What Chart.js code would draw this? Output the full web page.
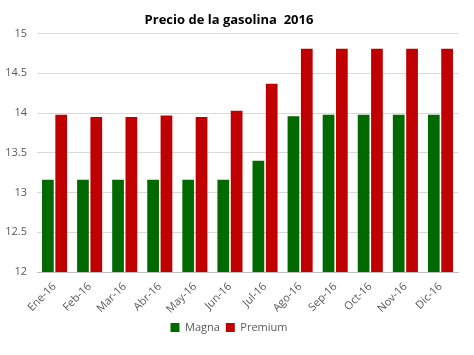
<!DOCTYPE html>
<html>
<head>
<meta charset="utf-8">
<script src="https://cdn.jsdelivr.net/npm/chart.js@4"></script>
<style>
  html, body { margin: 0; padding: 0; background: #fff; }
  #wrap { width: 474px; height: 355px; }
</style>
</head>
<body>
<div id="wrap"><canvas id="gasChart" width="474" height="355"></canvas></div>
<script>
const months = ['Ene-16', 'Feb-16', 'Mar-16', 'Abr-16', 'May-16', 'Jun-16',
                'Jul-16', 'Ago-16', 'Sep-16', 'Oct-16', 'Nov-16', 'Dic-16'];
const magna = [13.16, 13.16, 13.16, 13.16, 13.16, 13.16, 13.40, 13.96, 13.98, 13.98, 13.98, 13.98];
const premium = [13.98, 13.95, 13.95, 13.97, 13.95, 14.03, 14.37, 14.81, 14.81, 14.81, 14.81, 14.81];
const yTicks = [12, 12.5, 13, 13.5, 14, 14.5, 15];

Chart.defaults.font.family = "'Open Sans', 'Noto Sans', sans-serif";
Chart.defaults.color = '#595959';

const ctx = document.getElementById('gasChart').getContext('2d');
new Chart(ctx, {
    type: 'bar',
    data: {
        labels: months,
        datasets: [{
            label: 'Magna',
            data: magna,
            backgroundColor: '#006a00',
            categoryPercentage: 0.76,
            barPercentage: 0.88
        }, {
            label: 'Premium',
            data: premium,
            backgroundColor: '#c00000',
            categoryPercentage: 0.76,
            barPercentage: 0.88
        }]
    },
    options: {
        responsive: false,
        animation: false,
        layout: { padding: { left: 0, right: 16, top: 6, bottom: 12 } },
        plugins: {
            title: {
                display: true,
                text: 'Precio de la gasolina  2016',
                color: '#000',
                font: { size: 13, weight: 'bold' },
                padding: { top: 6, bottom: 6 }
            },
            legend: {
                position: 'bottom',
                labels: { boxWidth: 9, boxHeight: 9, font: { size: 11 }, padding: 6 }
            },
            tooltip: { enabled: false }
        },
        scales: {
            x: {
                grid: { display: false },
                border: { color: '#bfbfbf' },
                ticks: { maxRotation: 45, minRotation: 45, font: { size: 11 }, padding: 0 },
                afterFit: axis => { axis.paddingLeft = 0; }
            },
            y: {
                min: 12,
                max: 15,
                afterBuildTicks: axis => { axis.ticks = yTicks.map(v => ({ value: v })); },
                afterFit: axis => { axis.width = 37; },
                grid: { color: '#d9d9d9', drawTicks: false },
                border: { display: false },
                ticks: { font: { size: 11 }, padding: 10, callback: v => String(v) }
            }
        }
    }
});
</script>
</body>
</html>
